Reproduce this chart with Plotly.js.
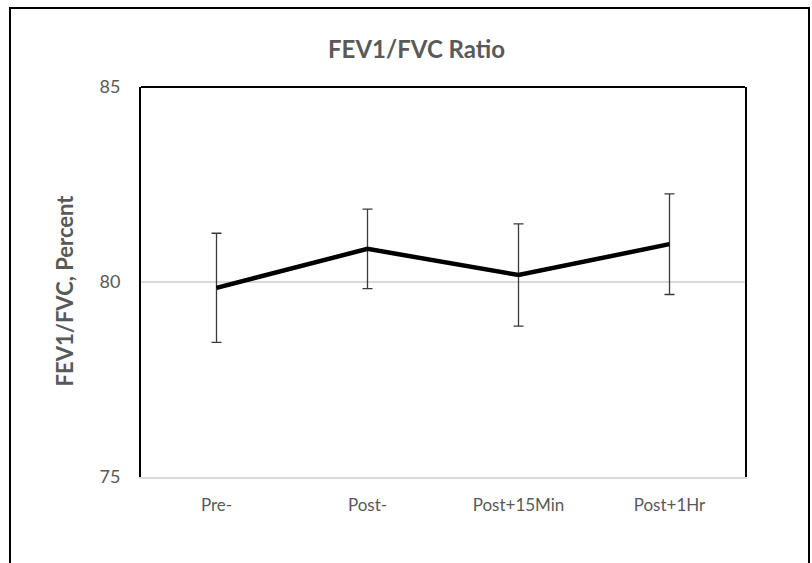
<!DOCTYPE html>
<html>
<head>
<meta charset="utf-8">
<script src="https://cdn.plot.ly/plotly-3.0.1.min.js"></script>
<style>
html,body{margin:0;padding:0;background:#fff;}
#wrap{position:relative;width:812px;height:563px;overflow:hidden;}
#chart{position:absolute;left:0;top:0;width:812px;height:563px;}
#frame{position:absolute;left:9px;top:7px;width:797px;height:620px;border:2px solid #000;pointer-events:none;z-index:10;}
</style>
</head>
<body>
<div id="wrap">
<div id="chart"></div>
<div id="frame"></div>
</div>
<script>
const categories = ["Pre-", "Post-", "Post+15Min", "Post+1Hr"];
const meanValues = [79.85, 80.85, 80.18, 80.97];
const errorValues = [1.40, 1.02, 1.31, 1.29];
const yTickValues = [75, 80, 85];
const yTickLabels = ["75", "80", "85"];
const chartTitle = "FEV1/FVC Ratio";
const yAxisTitle = "FEV1/FVC, Percent";

const gray = "#595959";
const fontFam = "Lato, 'Noto Sans', sans-serif";

const trace = {
  type: "scatter",
  mode: "lines",
  x: categories,
  y: meanValues,
  line: {color: "#000000", width: 4.5},
  error_y: {type: "data", array: errorValues, visible: true, color: "#3a3a3a", thickness: 1.3, width: 5},
  hoverinfo: "skip",
  showlegend: false
};

const layout = {
  width: 812, height: 563,
  margin: {l: 141, r: 67, t: 87, b: 86},
  paper_bgcolor: "#ffffff",
  plot_bgcolor: "#ffffff",
  title: {text: "<b>" + chartTitle + "</b>", font: {family: fontFam, size: 24, color: gray}, x: 0.513, xref: "container", y: 0.912, yref: "container", xanchor: "center", yanchor: "middle"},
  xaxis: {
    type: "category",
    range: [-0.5, 3.5],
    showgrid: false,
    zeroline: false,
    showline: true, linecolor: "#d9d9d9", linewidth: 2,
    ticks: "",
    ticklabelstandoff: 12,
    tickfont: {family: fontFam, size: 17, color: gray},
    fixedrange: true
  },
  yaxis: {
    range: [75, 85],
    tickvals: yTickValues,
    ticktext: yTickLabels,
    showgrid: true, gridcolor: "#d9d9d9", gridwidth: 1.5,
    zeroline: false,
    showline: true, linecolor: "#000000", linewidth: 2, mirror: true,
    ticks: "",
    ticklabelstandoff: 15,
    tickfont: {family: fontFam, size: 18, color: gray},
    fixedrange: true
  },
  annotations: [
    {text: "<b>" + yAxisTitle + "</b>", textangle: -90, xref: "paper", yref: "paper",
     x: -0.126, y: 0.478, xanchor: "center", yanchor: "middle", showarrow: false,
     font: {family: fontFam, size: 22, color: gray}}
  ],
  shapes: [
    {type: "line", xref: "paper", yref: "paper", x0: 0, x1: 1, y0: 1, y1: 1, line: {color: "#000000", width: 2}}
  ]
};

Plotly.newPlot("chart", [trace], layout, {displayModeBar: false, staticPlot: true});
</script>
</body>
</html>
